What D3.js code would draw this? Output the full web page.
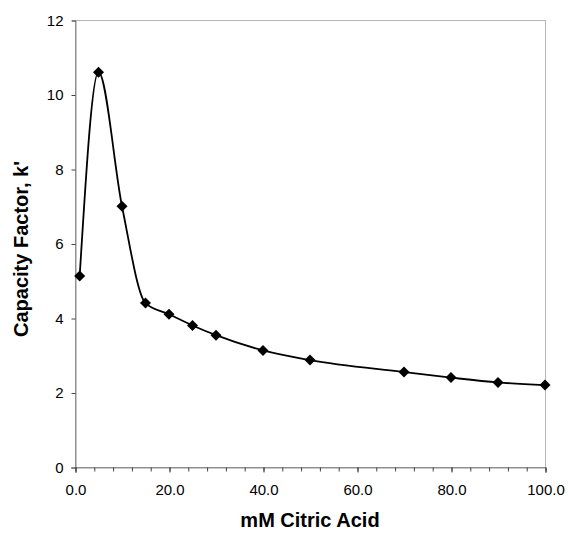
<!DOCTYPE html>
<html>
<head>
<meta charset="utf-8">
<script src="https://cdn.jsdelivr.net/npm/d3@7"></script>
<style>
  body { margin: 0; background: #fff; }
  svg { display: block; font-family: "Liberation Sans", Arial, sans-serif; }
  .tick-label { font-size: 15px; fill: #000; }
  .axis-title { font-size: 20px; font-weight: bold; fill: #000; }
</style>
</head>
<body>
<svg id="canvas"></svg>
<script>
"use strict"

// citric acid concentration (mM) and capacity factor k'
const citric = [1, 5, 10, 15, 20, 25, 30, 40, 50, 70, 80, 90, 100]
const capacity = [5.13, 10.6, 7.0, 4.4, 4.1, 3.8, 3.54, 3.13, 2.87, 2.55, 2.4, 2.27, 2.2]

const xTicks = [0, 20, 40, 60, 80, 100]
const xMinor = d3.range(0, 101, 4)
const yTicks = [0, 2, 4, 6, 8, 10, 12]

function draw() {
  const $ = {
    width: 568,
    height: 534,
    left: 75,
    right: 545,
    top: 20,
    bottom: 467,
  }

  const svg = d3.select("#canvas")
    .attr("width", $.width)
    .attr("height", $.height)

  const x = d3.scaleLinear().domain([0, 100]).range([$.left, $.right])
  const y = d3.scaleLinear().domain([0, 12]).range([$.bottom, $.top])

  // plot area frame (dotted, excel style)
  svg.append("rect")
    .attr("x", $.left + 0.5)
    .attr("y", $.top + 0.5)
    .attr("width", $.right - $.left)
    .attr("height", $.bottom - $.top)
    .attr("fill", "none")
    .attr("stroke", "#6a6a6a")
    .attr("stroke-dasharray", "1,1")

  // y axis
  const yAxis = svg.append("g")
    .attr("transform", `translate(${$.left + 0.5},0.5)`)
    .call(d3.axisLeft(y).tickValues(yTicks).tickSize(4).tickPadding(8).tickFormat(d3.format("d")))
  yAxis.select(".domain").attr("stroke", "#222").attr("stroke-dasharray", "1,1")
  yAxis.selectAll(".tick line").attr("stroke", "#444")
  yAxis.selectAll(".tick text").attr("class", "tick-label").attr("font-size", null).attr("font-family", null)

  // x axis, minor ticks every 4
  const xAxisMinor = svg.append("g")
    .attr("transform", `translate(0.5,${$.bottom + 0.5})`)
    .call(d3.axisBottom(x).tickValues(xMinor).tickSize(4).tickFormat(""))
  xAxisMinor.select(".domain").remove()
  xAxisMinor.selectAll(".tick line").attr("stroke", "#444")

  const xAxis = svg.append("g")
    .attr("transform", `translate(0.5,${$.bottom + 0.5})`)
    .call(d3.axisBottom(x).tickValues(xTicks).tickSize(5).tickPadding(12).tickFormat(d3.format(".1f")))
  xAxis.select(".domain").attr("stroke", "#222").attr("stroke-dasharray", "1,1")
  xAxis.selectAll(".tick line").attr("stroke", "#444")
  xAxis.selectAll(".tick text").attr("class", "tick-label").attr("font-size", null).attr("font-family", null)

  // smoothed line
  const line = d3.line()
    .x((d, i) => x(citric[i]))
    .y(d => y(d))
    .curve(d3.curveMonotoneX)

  svg.append("path")
    .datum(capacity)
    .attr("d", line)
    .attr("fill", "none")
    .attr("stroke", "#000")
    .attr("stroke-width", 1.8)

  // diamond markers
  svg.append("g")
    .selectAll("path")
    .data(capacity)
    .enter().append("path")
      .attr("transform", (d, i) => `translate(${x(citric[i])},${y(d)})`)
      .attr("d", "M0,-5.5L5.5,0L0,5.5L-5.5,0Z")
      .attr("fill", "#000")

  // axis titles
  svg.append("text")
    .attr("class", "axis-title")
    .attr("x", ($.left + $.right) / 2)
    .attr("y", 527)
    .attr("text-anchor", "middle")
    .text("mM Citric Acid")

  svg.append("text")
    .attr("class", "axis-title")
    .attr("font-size", "21px")
    .attr("transform", `translate(28,249) rotate(-90)`)
    .attr("text-anchor", "middle")
    .text("Capacity Factor, k'")
}

draw()
</script>
</body>
</html>
